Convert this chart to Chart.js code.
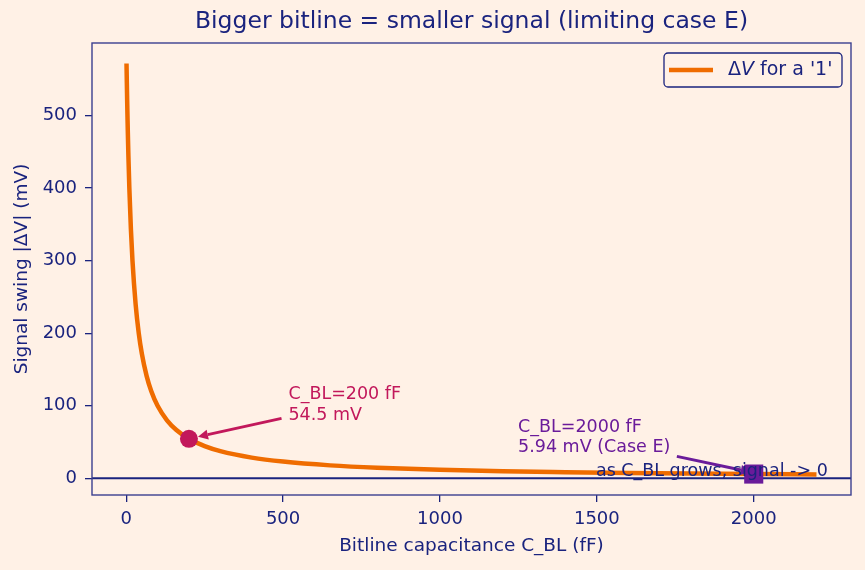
<!DOCTYPE html>
<html>
<head>
<meta charset="utf-8">
<script src="https://cdn.jsdelivr.net/npm/chart.js@4"></script>
<style>
  html, body { margin: 0; padding: 0; background: #fff1e6; }
  #wrap { width: 865px; height: 570px; }
</style>
</head>
<body>
<div id="wrap"><canvas id="grafico" width="865" height="570"></canvas></div>
<script>
// bitline capacitance (fF) and signal swing (mV)
var capBL = [1, 2, 3, 4, 5, 7, 10, 15, 20, 30, 40, 50, 65, 80, 100, 130, 160, 200, 250, 300, 400, 500, 650, 800, 1000, 1200, 1400, 1600, 1800, 2000, 2200];
var swingMV = [571.4, 545.5, 521.7, 500, 480, 444.4, 400, 342.9, 300, 240, 200, 171.4, 141.2, 120, 100, 80, 66.7, 54.5, 44.4, 37.5, 28.6, 23.1, 17.9, 14.6, 11.8, 9.8, 8.5, 7.4, 6.6, 5.94, 5.4];

// marked points
var pontoA = { x: 200, y: 54.5 };
var pontoE = { x: 2000, y: 5.94 };

var xTicks = [0, 500, 1000, 1500, 2000];
var yTicks = [0, 100, 200, 300, 400, 500];

var navy = '#1a237e';
var laranja = '#ef6c00';
var rosa = '#c2185b';
var roxo = '#6a1b9a';
var fundo = '#fff1e6';
var fonte = 'DejaVu Sans';

var curva = [];
for (var i = 0; i < capBL.length; i++) {
  curva.push({ x: capBL[i], y: swingMV[i] });
}

function seta(ctx, x0, y0, x1, y1, cor) {
  var ang = Math.atan2(y1 - y0, x1 - x0);
  var hl = 10, hw = 5;
  var bx = x1 - hl * Math.cos(ang), by = y1 - hl * Math.sin(ang);
  ctx.save();
  ctx.strokeStyle = cor;
  ctx.fillStyle = cor;
  ctx.lineWidth = 3;
  ctx.beginPath();
  ctx.moveTo(x0, y0);
  ctx.lineTo(bx, by);
  ctx.stroke();
  ctx.beginPath();
  ctx.moveTo(x1, y1);
  ctx.lineTo(bx + hw * Math.sin(ang), by - hw * Math.cos(ang));
  ctx.lineTo(bx - hw * Math.sin(ang), by + hw * Math.cos(ang));
  ctx.closePath();
  ctx.fill();
  ctx.restore();
}

var extras = {
  id: 'extras',
  beforeDraw: function (chart) {
    var ctx = chart.ctx;
    ctx.save();
    ctx.fillStyle = fundo;
    ctx.fillRect(0, 0, chart.width, chart.height);
    ctx.restore();
  },
  beforeDatasetsDraw: function (chart) {
    var ctx = chart.ctx, a = chart.chartArea, sy = chart.scales.y;
    ctx.save();
    ctx.strokeStyle = navy;
    ctx.lineWidth = 2;
    ctx.beginPath();
    ctx.moveTo(a.left, sy.getPixelForValue(0));
    ctx.lineTo(a.right, sy.getPixelForValue(0));
    ctx.stroke();
    ctx.restore();
  },
  afterDatasetsDraw: function (chart) {
    var ctx = chart.ctx, a = chart.chartArea;
    var sx = chart.scales.x, sy = chart.scales.y;
    function px(v) { return sx.getPixelForValue(v); }
    function py(v) { return sy.getPixelForValue(v); }

    // frame
    ctx.save();
    ctx.strokeStyle = '#3b3f8f';
    ctx.lineWidth = 1.4;
    ctx.strokeRect(a.left, a.top, a.right - a.left, a.bottom - a.top);
    ctx.restore();

    // title
    ctx.save();
    ctx.fillStyle = navy;
    ctx.font = '23.5px "' + fonte + '"';
    ctx.textAlign = 'center';
    ctx.textBaseline = 'middle';
    ctx.fillText('Bigger bitline = smaller signal (limiting case E)', (a.left + a.right) / 2, 22);
    ctx.restore();

    // annotations
    ctx.save();
    ctx.font = '17.5px "' + fonte + '"';
    ctx.textAlign = 'left';
    ctx.textBaseline = 'middle';
    ctx.fillStyle = rosa;
    ctx.fillText('C_BL=200 fF', px(517), py(115.7));
    ctx.fillText('54.5 mV', px(517), py(86.8));
    ctx.fillStyle = roxo;
    ctx.fillText('C_BL=2000 fF', px(1249), py(70.2));
    ctx.fillText('5.94 mV (Case E)', px(1249), py(42.7));
    ctx.restore();

    seta(ctx, px(495), py(82.6), px(pontoA.x) + 9, py(pontoA.y) - 2, rosa);
    seta(ctx, px(1755), py(30.3), px(pontoE.x) - 3, py(pontoE.y) - 2, roxo);

    ctx.save();
    ctx.font = '17.5px "' + fonte + '"';
    ctx.textAlign = 'left';
    ctx.textBaseline = 'middle';
    ctx.fillStyle = navy;
    ctx.fillText('as C_BL grows, signal -> 0', px(1497), py(9.6));
    ctx.restore();

    // legend
    var lx = a.right - 187, ly = a.top + 10, lw = 178, lh = 34;
    ctx.save();
    ctx.fillStyle = fundo;
    ctx.strokeStyle = navy;
    ctx.lineWidth = 1.3;
    ctx.beginPath();
    ctx.roundRect(lx, ly, lw, lh, 4);
    ctx.fill();
    ctx.stroke();
    ctx.strokeStyle = laranja;
    ctx.lineWidth = 4.5;
    ctx.beginPath();
    ctx.moveTo(lx + 5, ly + lh / 2);
    ctx.lineTo(lx + 49, ly + lh / 2);
    ctx.stroke();
    ctx.fillStyle = navy;
    ctx.textBaseline = 'middle';
    ctx.textAlign = 'left';
    var tx = lx + 64;
    ctx.font = '19px "' + fonte + '"';
    ctx.fillText('\u0394', tx, ly + lh / 2);
    tx += ctx.measureText('\u0394').width;
    ctx.font = 'italic 19px "' + fonte + '"';
    ctx.fillText('V', tx, ly + lh / 2);
    tx += ctx.measureText('V').width;
    ctx.font = '19px "' + fonte + '"';
    ctx.fillText(" for a '1'", tx, ly + lh / 2);
    ctx.restore();
  }
};

var ctx = document.getElementById('grafico').getContext('2d');
var chart = new Chart(ctx, {
  type: 'line',
  data: {
    datasets: [
      {
        label: 'Ponto E',
        data: [pontoE],
        showLine: false,
        pointStyle: 'rect',
        pointRadius: 13.5,
        pointBackgroundColor: roxo,
        pointBorderWidth: 0,
        order: 0
      },
      {
        label: 'Ponto A',
        data: [pontoA],
        showLine: false,
        pointStyle: 'circle',
        pointRadius: 9,
        pointBackgroundColor: rosa,
        pointBorderWidth: 0,
        order: 1
      },
      {
        label: "ΔV for a '1'",
        data: curva,
        borderColor: laranja,
        borderWidth: 4.5,
        pointRadius: 0,
        cubicInterpolationMode: 'monotone',
        fill: false,
        order: 2
      }
    ]
  },
  options: {
    responsive: false,
    animation: false,
    layout: { padding: { left: 0, top: 43, right: 14, bottom: 0 } },
    plugins: {
      legend: { display: false },
      title: { display: false },
      tooltip: { enabled: false }
    },
    scales: {
      x: {
        type: 'linear',
        min: -109,
        max: 2310,
        afterBuildTicks: function (s) { s.ticks = xTicks.map(function (v) { return { value: v }; }); },
        afterFit: function (s) { s.height = 75; },
        grid: { display: true, drawOnChartArea: false, drawTicks: true, tickLength: 7, color: navy, lineWidth: 1.3 },
        border: { display: false },
        ticks: { color: navy, font: { family: fonte, size: 18 }, padding: 7, maxRotation: 0, callback: function (v) { return String(v); } },
        title: { display: true, text: 'Bitline capacitance C_BL (fF)', color: navy, font: { family: fonte, size: 18.5 }, padding: { top: 0, bottom: 13 } }
      },
      y: {
        type: 'linear',
        min: -22.9,
        max: 599.7,
        afterBuildTicks: function (s) { s.ticks = yTicks.map(function (v) { return { value: v }; }); },
        afterFit: function (s) { s.width = 92; },
        grid: { display: true, drawOnChartArea: false, drawTicks: true, tickLength: 7, color: navy, lineWidth: 1.3 },
        border: { display: false },
        ticks: { color: navy, font: { family: fonte, size: 18 }, padding: 8, callback: function (v) { return String(v); } },
        title: { display: true, text: 'Signal swing |ΔV| (mV)', color: navy, font: { family: fonte, size: 18.5 }, padding: { top: 11, bottom: 0 } }
      }
    }
  },
  plugins: [extras]
});
</script>
</body>
</html>
